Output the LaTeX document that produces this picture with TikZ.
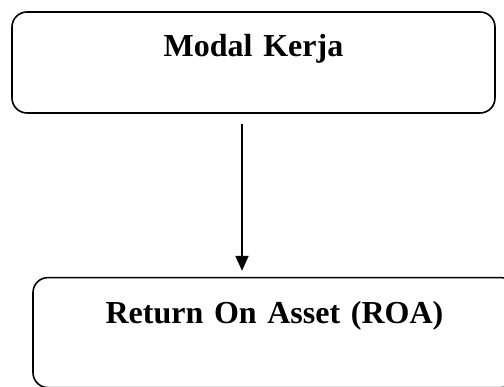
\documentclass[tikz,border=0pt]{standalone}
\usepackage{fontspec}
\setmainfont{Liberation Serif}
\usepackage{tikz}
\usetikzlibrary{arrows.meta,positioning}
\tikzset{
  block/.style={
    draw=black, rounded corners=15pt, line width=1.6pt, fill=white,
    text width=483pt, align=center, inner xsep=0pt, inner ysep=0pt,
    font=\fontsize{32}{38}\selectfont\bfseries
  },
  flow/.style={-{Triangle[length=15pt,width=13pt]}, draw=black, line width=2pt}
}
\begin{document}
\begin{tikzpicture}[x=1pt,y=1pt]
  \useasboundingbox (0,0) rectangle (504,387);

  \node[block, text height=45pt, text depth=56pt] (modal) at (253.5,324.5) {Modal Kerja};
  \node[block, text height=46pt, text depth=64pt, below=163pt of modal, xshift=21pt] (roa) {Return On Asset (ROA)};

  \draw[flow, shorten >=6pt] ([xshift=-11.5pt,yshift=-10pt]modal.south) coordinate (start) -- (start |- roa.north);
\end{tikzpicture}
\end{document}
